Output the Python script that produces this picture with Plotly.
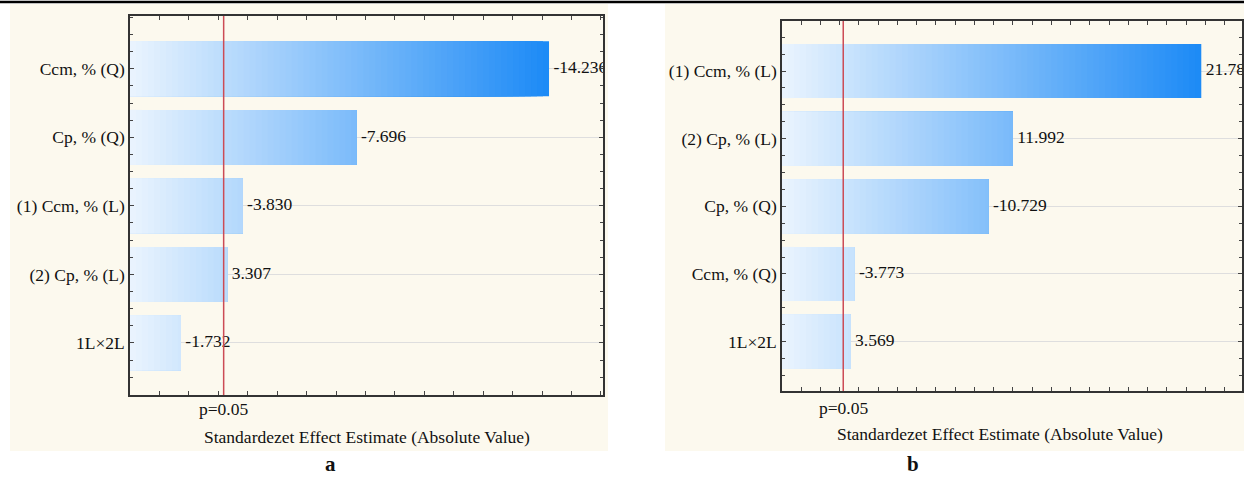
import plotly.graph_objects as go

# ---------------- data ----------------
cats_a = ["Ccm, % (Q)", "Cp, % (Q)", "(1) Ccm, % (L)", "(2) Cp, % (L)", "1L×2L"]
effects_a = [-14.236, -7.696, -3.830, 3.307, -1.732]

cats_b = ["(1) Ccm, % (L)", "(2) Cp, % (L)", "Cp, % (Q)", "Ccm, % (Q)", "1L×2L"]
effects_b = [21.785, 11.992, -10.729, -3.773, 3.569]

p_crit = 3.182          # p = 0.05 reference line
x_title = "Standardezet Effect Estimate (Absolute Value)"
panel_labels = ["a", "b"]

FONT = "Liberation Serif"
FS = 17.5
W, H = 1244, 477

c_light = (234, 244, 254)
c_dark = (28, 138, 246)


def grad_color(f):
    r = [round(c_light[i] + (c_dark[i] - c_light[i]) * f) for i in range(3)]
    return f"rgb({r[0]},{r[1]},{r[2]})"


fig = go.Figure()


def add_panel(cats, effects, xa, ya, nseg=70):
    vals = [abs(v) for v in effects]
    ypos = list(range(len(cats)))
    vmax = max(vals)
    step = vmax / nseg
    # gradient bars: overlapping bars, longest (darkest) drawn first
    for k in reversed(range(nseg)):
        xs = [min(v, (k + 1) * step) for v in vals]
        fig.add_trace(go.Bar(
            x=xs, y=ypos, orientation="h", width=0.8,
            marker=dict(color=grad_color((k + 0.5) / nseg), line=dict(width=0)),
            xaxis=xa, yaxis=ya, hoverinfo="skip", showlegend=False,
        ))
    fig.add_trace(go.Scatter(
        x=vals, y=ypos, mode="text",
        text=[" " + f"{v:.3f}" for v in effects], textposition="middle right",
        textfont=dict(family=FONT, size=FS, color="#111"),
        xaxis=xa, yaxis=ya, hoverinfo="skip", showlegend=False, cliponaxis=True,
    ))


add_panel(cats_a, effects_a, "x", "y")
add_panel(cats_b, effects_b, "x2", "y2")

axis_common = dict(
    showline=True, linecolor="#333", linewidth=1.5, mirror="allticks",
    zeroline=False,
)

fig.update_layout(
    width=W, height=H, margin=dict(l=0, r=0, t=0, b=0),
    paper_bgcolor="white", plot_bgcolor="white",
    barmode="overlay", bargap=0.2,
    font=dict(family=FONT, size=FS, color="#111"),
    xaxis=dict(domain=[130 / W, 603 / W], range=[0, 16.07], anchor="y",
               ticks="inside", tick0=0, dtick=1, ticklen=4, tickcolor="#444",
               showticklabels=False, showgrid=False, **axis_common),
    yaxis=dict(domain=[1 - 395 / H, 1 - 16 / H], range=[4.76, -0.77], anchor="x",
               tickmode="array", tickvals=list(range(len(cats_a))), ticktext=cats_a,
               ticks="inside", ticklen=4, tickcolor="#444",
               minor=dict(tickmode="linear", tick0=0, dtick=0.25, ticks="inside",
                          ticklen=3, tickcolor="#444", showgrid=False),
               showgrid=True, gridcolor="#dedede", gridwidth=1,
               tickfont=dict(family=FONT, size=FS, color="#111"), **axis_common),
    xaxis2=dict(domain=[782 / W, 1242 / W], range=[0, 23.9], anchor="y2",
                ticks="inside", tick0=0, dtick=1, ticklen=4, tickcolor="#444",
                showticklabels=False, showgrid=False, **axis_common),
    yaxis2=dict(domain=[1 - 391 / H, 1 - 21 / H], range=[4.73, -0.74], anchor="x2",
                tickmode="array", tickvals=list(range(len(cats_b))), ticktext=cats_b,
                ticks="inside", ticklen=4, tickcolor="#444",
                minor=dict(tickmode="linear", tick0=0, dtick=0.25, ticks="inside",
                           ticklen=3, tickcolor="#444", showgrid=False),
                showgrid=True, gridcolor="#dedede", gridwidth=1,
                tickfont=dict(family=FONT, size=FS, color="#111"), **axis_common),
)

cream = "#fcf9ee"
shapes = [
    dict(type="rect", xref="paper", yref="paper", x0=10 / W, x1=608 / W,
         y0=1 - 451 / H, y1=1 - 4 / H, fillcolor=cream, line=dict(width=0), layer="below"),
    dict(type="rect", xref="paper", yref="paper", x0=665 / W, x1=1.0,
         y0=1 - 451 / H, y1=1 - 4 / H, fillcolor=cream, line=dict(width=0), layer="below"),
    dict(type="line", xref="paper", yref="paper", x0=0, x1=1, y0=1 - 2 / H, y1=1 - 2 / H,
         line=dict(color="black", width=2.5)),
    dict(type="line", xref="x", yref="y domain", x0=p_crit, x1=p_crit, y0=0, y1=1,
         line=dict(color="#cc4b55", width=1.5), layer="above"),
    dict(type="line", xref="x2", yref="y2 domain", x0=p_crit, x1=p_crit, y0=0, y1=1,
         line=dict(color="#cc4b55", width=1.5), layer="above"),
]
fig.update_layout(shapes=shapes)

annots = [
    dict(text="p=0.05", xref="x", yref="paper", x=p_crit, y=1 - 409 / H,
         showarrow=False, xanchor="center", yanchor="middle", font=dict(size=FS)),
    dict(text="p=0.05", xref="x2", yref="paper", x=p_crit, y=1 - 408 / H,
         showarrow=False, xanchor="center", yanchor="middle", font=dict(size=FS)),
    dict(text=x_title, xref="paper", yref="paper", x=366.5 / W, y=1 - 437 / H,
         showarrow=False, xanchor="center", yanchor="middle", font=dict(size=FS)),
    dict(text=x_title, xref="paper", yref="paper", x=1000 / W, y=1 - 434 / H,
         showarrow=False, xanchor="center", yanchor="middle", font=dict(size=FS)),
    dict(text="<b>" + panel_labels[0] + "</b>", xref="paper", yref="paper", x=330 / W,
         y=0, showarrow=False, xanchor="center", yanchor="bottom",
         font=dict(size=21), yshift=-1),
    dict(text="<b>" + panel_labels[1] + "</b>", xref="paper", yref="paper", x=913 / W,
         y=0, showarrow=False, xanchor="center", yanchor="bottom",
         font=dict(size=21), yshift=-1),
]
fig.update_layout(annotations=annots)

fig.write_html("out.html")
